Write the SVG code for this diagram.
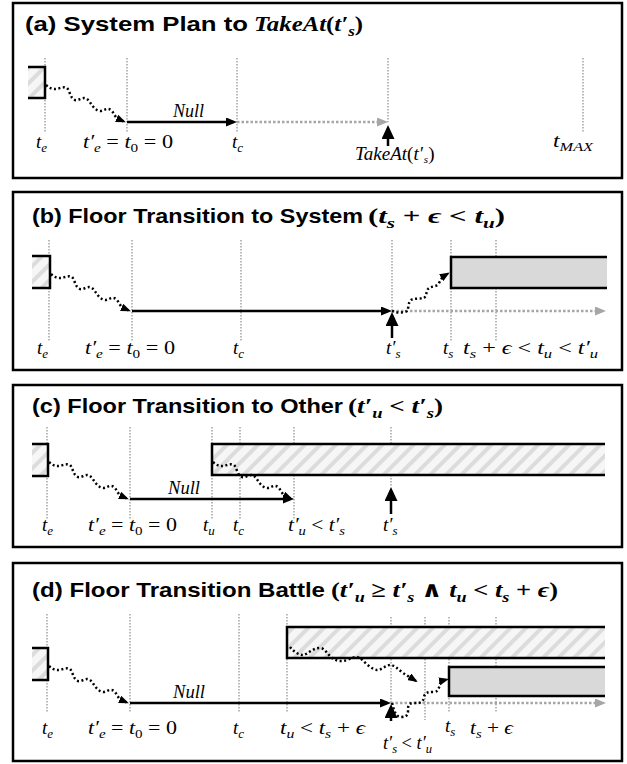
<svg xmlns="http://www.w3.org/2000/svg" xmlns:xlink="http://www.w3.org/1999/xlink" width="627" height="764" viewBox="0 0 627 764">
<style>
.frame{fill:#fff;stroke:#000;stroke-width:2.5}
.tt{font-family:"Liberation Sans",Arial,sans-serif;font-weight:bold;font-size:21px;fill:#000}
.tm{font-family:"Liberation Serif","DejaVu Serif",serif;font-weight:bold;font-style:italic;font-size:22px;fill:#000}
.m{font-family:"Liberation Serif","DejaVu Serif",serif;font-style:italic;font-size:19px;fill:#000}
.s{font-size:13px}
.ts{font-size:15px}
.u{font-style:normal}
.vl{stroke:#8c8c8c;stroke-width:1.2;stroke-dasharray:1.5 1.5;fill:none}
.box{stroke:#000;stroke-width:2.5;fill:url(#hatch)}
.gbox{stroke:#000;stroke-width:2.5;fill:#d9d9d9}
.ar{stroke:#000;stroke-width:2.5;fill:none;marker-end:url(#ah)}
.gar{stroke:#a6a6a6;stroke-width:2.5;stroke-dasharray:2.5 2;fill:none;marker-end:url(#ahg)}
.wv{stroke:#000;stroke-width:2.5;stroke-dasharray:2 2.5;fill:none;marker-end:url(#ahw)}
.upa{stroke:#000;stroke-width:2.5;fill:none;marker-end:url(#ahu)}
</style>
<defs>
<pattern id="hatch" patternUnits="userSpaceOnUse" width="11" height="11" patternTransform="rotate(45)">
<rect width="11" height="11" fill="#f6f6f6"/>
<rect width="4" height="11" fill="#dcdcdc"/>
</pattern>
<marker id="ah" markerUnits="userSpaceOnUse" viewBox="0 0 11 9" markerWidth="11" markerHeight="9" refX="7" refY="4.5" orient="auto"><path d="M0,0 L11,4.5 L0,9 z" fill="#000"/></marker>
<marker id="ahg" markerUnits="userSpaceOnUse" viewBox="0 0 11 9" markerWidth="11" markerHeight="9" refX="7" refY="4.5" orient="auto"><path d="M0,0 L11,4.5 L0,9 z" fill="#a6a6a6"/></marker>
<marker id="ahw" markerUnits="userSpaceOnUse" viewBox="0 0 10 8" markerWidth="10" markerHeight="8" refX="8" refY="4" orient="auto"><path d="M0,0 L10,4 L0,8 z" fill="#000"/></marker>
<marker id="ahu" markerUnits="userSpaceOnUse" viewBox="0 0 14 13" markerWidth="14" markerHeight="13" refX="10" refY="6.5" orient="auto"><path d="M0,0 L14,6.5 L0,13 z" fill="#000"/></marker>
<path id="w1" class="wv" d="M0,0 C3,3 6,4 9,4 C13,4 17,1 21,3 C24,6 24,13 29,15 C33,16 37,11 41,14 C45,17 47,25 54,26 C58,26 61,22 65,25 C68,28 69,32 72,34 L78,36.5"/>
</defs>

<!-- Panel frames -->
<g id="panel-a"><rect class="frame" x="13" y="3" width="609" height="175"/></g>
<g id="panel-b"><rect class="frame" x="13" y="192" width="609" height="178"/></g>
<g id="panel-c"><rect class="frame" x="13" y="385" width="609" height="162"/></g>
<g id="panel-d"><rect class="frame" x="13" y="563" width="609" height="198"/></g>

<!-- time markers (dotted verticals) -->
<g id="timelines">
<path class="vl" d="M45,58V133 M127,58V133 M237,58V133 M388,58V122 M583,58V133"/>
<path class="vl" d="M49,240V341 M132,240V341 M241,240V341 M392,240V311 M451,240V341 M496,240V341"/>
<path class="vl" d="M47,427V520 M130,427V520 M212,427V520 M240,427V520 M294,427V520 M391,427V487"/>
<path class="vl" d="M47,614V713 M130,614V713 M239,614V713 M287,614V713 M391,617V703 M425,617V720 M449,617V713 M496,617V713"/>
</g>

<!-- boxes -->
<g id="box-a-prev"><path class="box" d="M28,67 H45 V98 H28"/></g>
<g id="box-b-prev"><path class="box" d="M32,256 H50 V288 H32"/></g>
<g id="box-b-sys"><path class="gbox" d="M607,257 H451 V288 H607"/></g>
<g id="box-c-prev"><path class="box" d="M32,444 H48 V476 H32"/></g>
<g id="box-c-other"><path class="box" d="M605,444 H212 V475 H605"/></g>
<g id="box-d-prev"><path class="box" d="M32,648 H48 V680 H32"/></g>
<g id="box-d-other"><path class="box" d="M605,627 H287 V658 H605"/></g>
<g id="box-d-sys"><path class="gbox" d="M605,667 H449 V696 H605"/></g>

<!-- connectors -->
<g id="connectors">
<use xlink:href="#w1" href="#w1" x="46" y="85"/>
<line class="ar" x1="127" y1="122" x2="233" y2="122"/>
<line class="gar" x1="237" y1="122" x2="384" y2="122"/>
<line class="upa" x1="388" y1="146" x2="388" y2="129"/>

<use xlink:href="#w1" href="#w1" x="51" y="274"/>
<line class="ar" x1="132" y1="311" x2="388" y2="311"/>
<line class="gar" x1="392" y1="311" x2="602" y2="311"/>
<line class="upa" x1="392" y1="338" x2="392" y2="316"/>
<path class="wv" d="M392,311 C397,313 404,313 407,311 C409,308 408,302 411,300 C414,298 420,299 424,298 C427,296 426,290 429,288 C432,286 437,287 439,283 C441,280 442,277 444,276 L448,273.5"/>

<use xlink:href="#w1" href="#w1" x="49" y="462"/>
<line class="ar" x1="130" y1="499" x2="290" y2="499"/>
<use xlink:href="#w1" href="#w1" x="213" y="462"/>
<line class="upa" x1="391" y1="514" x2="391" y2="491"/>

<use xlink:href="#w1" href="#w1" x="49" y="666"/>
<line class="ar" x1="130" y1="703" x2="387" y2="703"/>
<line class="gar" x1="391" y1="703" x2="602" y2="703"/>
<line class="upa" x1="391" y1="721" x2="391" y2="708"/>
<path class="wv" d="M290,647 C294,652 299,655 303,655 C307,655 312,648 320,648 C325,648 328,655 332,658 C336,661 342,662 347,660 C352,658 356,656 360,658 C363,660 370,669 377,670 C382,670 386,665 390,665 C394,665 398,669 403,673 L416,681"/>
<path class="wv" d="M392,703 C394,711 396,717 401,717 C405,717 408,716 408,711 C408,706 408,703 414,703 C420,703 423,703 424,697 C425,692 429,692 434,692 C438,692 439,688 440,684 C441,681 443,680 445,680 L447,679.5"/>
</g>

<!-- titles -->
<g id="titles">
<text class="tt" x="25" y="31" textLength="223" lengthAdjust="spacingAndGlyphs">(a) System Plan to</text>
<text class="tm" x="254" y="31" textLength="109" lengthAdjust="spacingAndGlyphs">TakeAt<tspan class="u">(</tspan>t′<tspan class="ts" dy="5">s</tspan><tspan class="u" dy="-5">)</tspan></text>

<text class="tt" x="32" y="223" textLength="331" lengthAdjust="spacingAndGlyphs">(b) Floor Transition to System</text>
<text class="tm" x="368" y="223" textLength="137" lengthAdjust="spacingAndGlyphs"><tspan class="u">(</tspan>t<tspan class="ts" dy="5">s</tspan><tspan class="u" dy="-5"> + </tspan>ϵ<tspan class="u"> &lt; </tspan>t<tspan class="ts" dy="5">u</tspan><tspan class="u" dy="-5">)</tspan></text>

<text class="tt" x="32" y="413" textLength="311" lengthAdjust="spacingAndGlyphs">(c) Floor Transition to Other</text>
<text class="tm" x="348" y="413" textLength="95" lengthAdjust="spacingAndGlyphs"><tspan class="u">(</tspan>t′<tspan class="ts" dy="5">u</tspan><tspan class="u" dy="-5"> &lt; </tspan>t′<tspan class="ts" dy="5">s</tspan><tspan class="u" dy="-5">)</tspan></text>

<text class="tt" x="32" y="597" textLength="293" lengthAdjust="spacingAndGlyphs">(d) Floor Transition Battle</text>
<text class="tm" x="331" y="597" textLength="227" lengthAdjust="spacingAndGlyphs"><tspan class="u">(</tspan>t′<tspan class="ts" dy="5">u</tspan><tspan class="u" dy="-5"> ≥ </tspan>t′<tspan class="ts" dy="5">s</tspan><tspan class="u" dy="-5"> ∧ </tspan>t<tspan class="ts" dy="5">u</tspan><tspan class="u" dy="-5"> &lt; </tspan>t<tspan class="ts" dy="5">s</tspan><tspan class="u" dy="-5"> + </tspan>ϵ<tspan class="u">)</tspan></text>
</g>

<!-- labels -->
<g id="labels-a">
<text class="m" x="173" y="117" font-size="15" textLength="31" lengthAdjust="spacingAndGlyphs">Null</text>
<text class="m" x="36" y="148">t<tspan class="s" dy="4">e</tspan></text>
<text class="m" x="83" y="148" textLength="90" lengthAdjust="spacingAndGlyphs">t′<tspan class="s" dy="4">e</tspan><tspan class="u" dy="-4"> = </tspan>t<tspan class="s u" dy="4">0</tspan><tspan class="u" dy="-4"> = 0</tspan></text>
<text class="m" x="232" y="148">t<tspan class="s" dy="4">c</tspan></text>
<text class="m" x="553" y="147" textLength="40" lengthAdjust="spacingAndGlyphs">t<tspan class="s" dy="4">MAX</tspan></text>
<text class="m" x="355" y="160" font-size="15">TakeAt<tspan class="u">(</tspan>t′<tspan font-size="11" dx="1" dy="3">s</tspan><tspan class="u" dy="-3">)</tspan></text>
</g>
<g id="labels-b">
<text class="m" x="37" y="354">t<tspan class="s" dy="4">e</tspan></text>
<text class="m" x="85" y="354" textLength="90" lengthAdjust="spacingAndGlyphs">t′<tspan class="s" dy="4">e</tspan><tspan class="u" dy="-4"> = </tspan>t<tspan class="s u" dy="4">0</tspan><tspan class="u" dy="-4"> = 0</tspan></text>
<text class="m" x="233" y="354">t<tspan class="s" dy="4">c</tspan></text>
<text class="m" x="386" y="354">t′<tspan class="s" dy="4">s</tspan></text>
<text class="m" x="443" y="354">t<tspan class="s" dy="4">s</tspan></text>
<text class="m" x="463" y="354" textLength="135" lengthAdjust="spacingAndGlyphs">t<tspan class="s" dy="4">s</tspan><tspan class="u" dy="-4"> + </tspan>ϵ<tspan class="u"> &lt; </tspan>t<tspan class="s" dy="4">u</tspan><tspan class="u" dy="-4"> &lt; </tspan>t′<tspan class="s" dy="4">u</tspan></text>
</g>
<g id="labels-c">
<text class="m" x="168" y="494" font-size="15" textLength="32" lengthAdjust="spacingAndGlyphs">Null</text>
<text class="m" x="42" y="531">t<tspan class="s" dy="4">e</tspan></text>
<text class="m" x="88" y="531" textLength="89" lengthAdjust="spacingAndGlyphs">t′<tspan class="s" dy="4">e</tspan><tspan class="u" dy="-4"> = </tspan>t<tspan class="s u" dy="4">0</tspan><tspan class="u" dy="-4"> = 0</tspan></text>
<text class="m" x="203" y="531">t<tspan class="s" dy="4">u</tspan></text>
<text class="m" x="233" y="531">t<tspan class="s" dy="4">c</tspan></text>
<text class="m" x="288" y="531" textLength="57" lengthAdjust="spacingAndGlyphs">t′<tspan class="s" dy="4">u</tspan><tspan class="u" dy="-4"> &lt; </tspan>t′<tspan class="s" dy="4">s</tspan></text>
<text class="m" x="383" y="531">t′<tspan class="s" dy="4">s</tspan></text>
</g>
<g id="labels-d">
<text class="m" x="173" y="698" font-size="15" textLength="32" lengthAdjust="spacingAndGlyphs">Null</text>
<text class="m" x="42" y="734">t<tspan class="s" dy="4">e</tspan></text>
<text class="m" x="88" y="734" textLength="89" lengthAdjust="spacingAndGlyphs">t′<tspan class="s" dy="4">e</tspan><tspan class="u" dy="-4"> = </tspan>t<tspan class="s u" dy="4">0</tspan><tspan class="u" dy="-4"> = 0</tspan></text>
<text class="m" x="233" y="734">t<tspan class="s" dy="4">c</tspan></text>
<text class="m" x="280" y="734" textLength="85" lengthAdjust="spacingAndGlyphs">t<tspan class="s" dy="4">u</tspan><tspan class="u" dy="-4"> &lt; </tspan>t<tspan class="s" dy="4">s</tspan><tspan class="u" dy="-4"> + </tspan>ϵ</text>
<text class="m" x="383" y="749" textLength="49" lengthAdjust="spacingAndGlyphs">t′<tspan class="s" dy="4">s</tspan><tspan class="u" dy="-4"> &lt; </tspan>t′<tspan class="s" dy="4">u</tspan></text>
<text class="m" x="445" y="732">t<tspan class="s" dy="4">s</tspan></text>
<text class="m" x="470" y="734" textLength="43" lengthAdjust="spacingAndGlyphs">t<tspan class="s" dy="4">s</tspan><tspan class="u" dy="-4"> + </tspan>ϵ</text>
</g>
</svg>
